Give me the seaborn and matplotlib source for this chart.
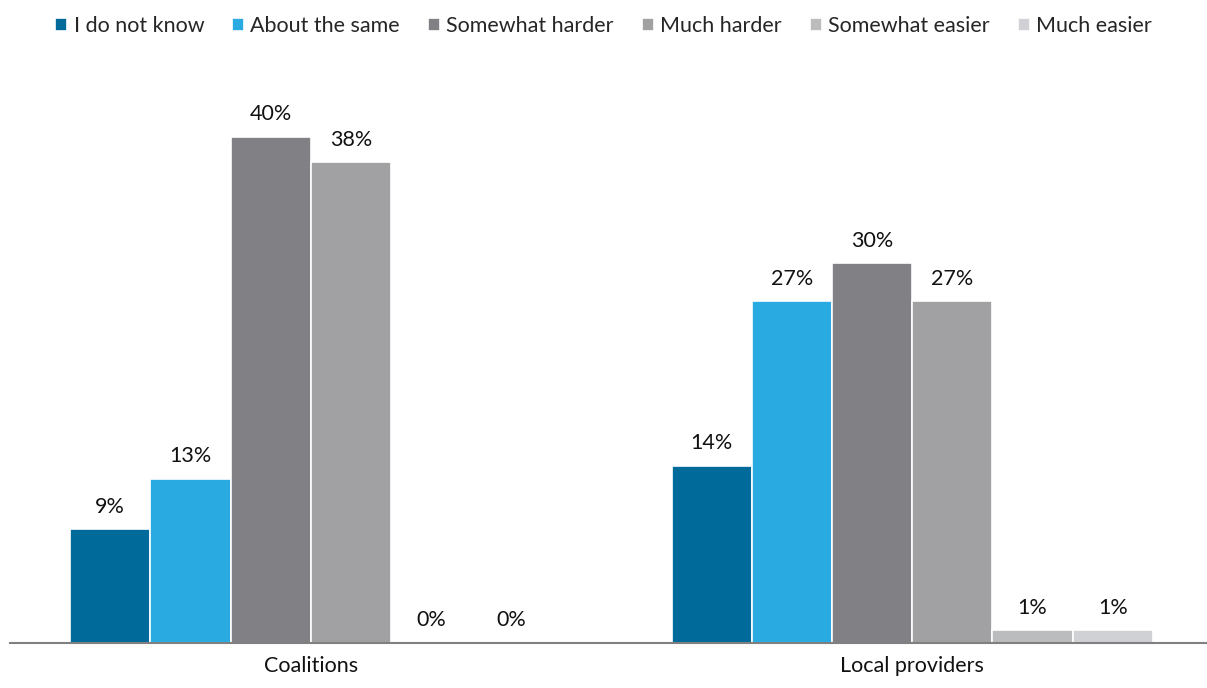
import pandas as pd
import matplotlib.pyplot as plt
import seaborn as sns

# ── Data ──────────────────────────────────────────────────
groups = ["Coalitions", "Local providers"]
responses = ["I do not know", "About the same", "Somewhat harder",
             "Much harder", "Somewhat easier", "Much easier"]
coalitions = [9, 13, 40, 38, 0, 0]
local_providers = [14, 27, 30, 27, 1, 1]

PALETTE = ["#006a9a", "#29abe2", "#808085", "#a1a1a4", "#bbbcbe", "#d0d1d4"]

df = pd.DataFrame({
    "group": [groups[0]] * len(responses) + [groups[1]] * len(responses),
    "response": responses * 2,
    "pct": coalitions + local_providers,
})

sns.set_theme(style="white")
plt.rcParams["font.family"] = ["Lato", "DejaVu Sans"]

fig = plt.figure(figsize=(12.07, 6.88), dpi=100)
ax = fig.add_axes([10 / 1207, 45 / 688, 1 - 10 / 1207, (643 - 80) / 688])

sns.barplot(data=df, x="group", y="pct", hue="response", hue_order=responses,
            palette=PALETTE, width=0.8, edgecolor="white", linewidth=1.2,
            saturation=1, ax=ax)

for cont in ax.containers:
    ax.bar_label(cont, labels=[f"{v:.0f}%" for v in cont.datavalues],
                 padding=9, fontsize=15.5, color="#111111")

ax.set_xlim(-0.5, 1.49)
ax.set_ylim(0, 44.5)
ax.set_xlabel("")
ax.set_ylabel("")
ax.set_yticks([])
ax.tick_params(axis="x", labelsize=15.5, length=0, pad=9, colors="#111111")
for s in ["top", "right", "left"]:
    ax.spines[s].set_visible(False)
ax.spines["bottom"].set_color("#808080")
ax.spines["bottom"].set_linewidth(1.5)

handles, labels = ax.get_legend_handles_labels()
ax.get_legend().remove()
fig.legend(handles, labels, loc="upper center", bbox_to_anchor=(0.5, 1.005),
           ncol=6, frameon=False, fontsize=15.5, handlelength=0.55,
           handleheight=0.55, handletextpad=0.3, columnspacing=1.3)

fig.savefig("out.png", dpi=100)
